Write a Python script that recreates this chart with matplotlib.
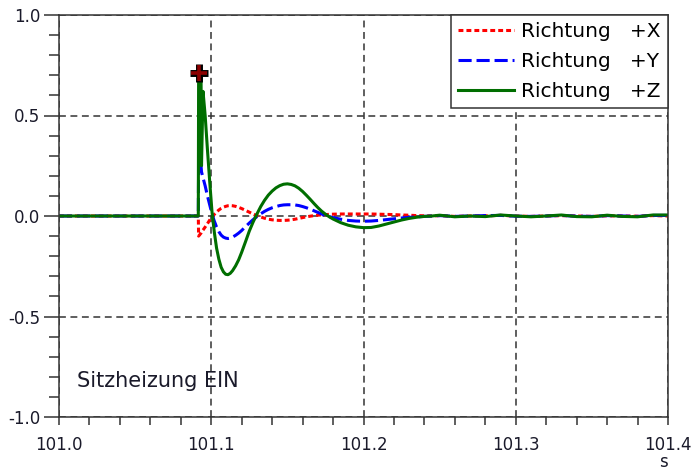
import matplotlib
matplotlib.use("Agg")
import matplotlib.pyplot as plt
from matplotlib.ticker import MultipleLocator, FormatStrFormatter
import numpy as np

# time axis [s] shared by all three directions
t = [101.0, 101.0915, 101.0917, 101.0933, 101.0936, 101.0946, 101.096, 101.0975, 101.099, 101.1005,
     101.102, 101.1035, 101.105, 101.1065, 101.108, 101.1095, 101.111, 101.1125, 101.114, 101.116,
     101.118, 101.12, 101.1225, 101.125, 101.1275, 101.13, 101.1325, 101.135, 101.1375, 101.14,
     101.1425, 101.145, 101.1475, 101.15, 101.1525, 101.155, 101.1575, 101.16, 101.1625, 101.165,
     101.1675, 101.17, 101.1725, 101.175, 101.1775, 101.18, 101.185, 101.19, 101.195, 101.2,
     101.205, 101.21, 101.215, 101.22, 101.225, 101.23, 101.235, 101.24, 101.245,
     101.25, 101.26, 101.27, 101.28, 101.29, 101.30, 101.31, 101.32,
     101.33, 101.34, 101.35, 101.36, 101.37, 101.38, 101.39, 101.4]

acc_x = [0.0, 0.0, -0.10, -0.085, -0.08, -0.07, -0.055, -0.038, -0.02, -0.005,
         0.008, 0.02, 0.03, 0.038, 0.044, 0.048, 0.051, 0.052, 0.051, 0.048,
         0.043, 0.037, 0.028, 0.019, 0.01, 0.002, -0.005, -0.011, -0.016, -0.019,
         -0.021, -0.022, -0.022, -0.021, -0.019, -0.016, -0.012, -0.008, -0.004, -0.001,
         0.002, 0.004, 0.006, 0.007, 0.008, 0.009, 0.01, 0.01, 0.01, 0.01,
         0.01, 0.009, 0.008, 0.007, 0.005, 0.004, 0.002, 0.001, 0.0,
         0.002, -0.002, 0.0, 0.001, 0.003, 0.0, -0.002, 0.0,
         0.002, 0.0, -0.002, 0.001, 0.0, -0.001, 0.002, 0.0]

acc_y = [0.0, 0.0, 0.28, 0.25, 0.22, 0.19, 0.15, 0.10, 0.055, 0.01,
         -0.025, -0.055, -0.078, -0.095, -0.105, -0.11, -0.112, -0.11, -0.105, -0.096,
         -0.085, -0.072, -0.053, -0.035, -0.018, -0.003, 0.011, 0.023, 0.033, 0.041,
         0.047, 0.052, 0.055, 0.056, 0.056, 0.055, 0.052, 0.047, 0.041, 0.034,
         0.026, 0.018, 0.01, 0.003, -0.003, -0.008, -0.016, -0.022, -0.025, -0.026,
         -0.025, -0.022, -0.018, -0.014, -0.01, -0.007, -0.004, -0.002, 0.0,
         0.002, -0.002, 0.0, 0.002, 0.003, -0.001, -0.002, 0.0,
         0.003, -0.001, -0.002, 0.002, 0.0, -0.002, 0.003, 0.003]

acc_z = [0.0, 0.0, 0.71, 0.70, 0.25, 0.62, 0.50, 0.33, 0.17, 0.02,
         -0.08, -0.16, -0.215, -0.255, -0.278, -0.29, -0.292, -0.285, -0.272, -0.248,
         -0.218, -0.18, -0.128, -0.075, -0.03, 0.01, 0.047, 0.078, 0.104, 0.124,
         0.14, 0.151, 0.158, 0.16, 0.157, 0.15, 0.138, 0.122, 0.103, 0.083,
         0.062, 0.042, 0.024, 0.009, -0.004, -0.015, -0.033, -0.046, -0.054, -0.058,
         -0.057, -0.05, -0.04, -0.03, -0.02, -0.012, -0.006, -0.002, 0.0,
         0.004, -0.004, 0.0, -0.003, 0.005, 0.0, -0.004, 0.0,
         0.005, -0.003, -0.004, 0.004, -0.002, -0.004, 0.005, 0.005]

labels = ["Richtung   +X", "Richtung   +Y", "Richtung   +Z"]
annotation = "Sitzheizung EIN"

plt.rcParams["font.family"] = ["DejaVu Sans"]

fig = plt.figure(figsize=(6.93, 4.74), dpi=100)
ax = fig.add_axes([59 / 693, 1 - 417 / 474, 609 / 693, 402 / 474])

lw = 2.2
ax.plot(t, acc_x, color="#ff0000", lw=lw, linestyle=(0, (1.6, 1.0)), label=labels[0])
ax.plot(t, acc_y, color="#0000ff", lw=lw, linestyle=(0, (4.3, 1.6)), label=labels[1])
ax.plot(t, acc_z, color="#006e00", lw=lw, label=labels[2])

# peak marker on the Z signal
i_pk = int(np.argmax(acc_z))
ax.plot(t[i_pk], acc_z[i_pk], marker="+", ms=13, mew=5, color="black", zorder=5)
ax.plot(t[i_pk], acc_z[i_pk], marker="+", ms=11, mew=2.6, color="#8b0000", zorder=6)

ax.set_xlim(101.0, 101.4)
ax.set_ylim(-1.0, 1.0)
ax.xaxis.set_major_locator(MultipleLocator(0.1))
ax.xaxis.set_minor_locator(MultipleLocator(0.02))
ax.yaxis.set_major_locator(MultipleLocator(0.5))
ax.yaxis.set_minor_locator(MultipleLocator(0.1))
ax.xaxis.set_major_formatter(FormatStrFormatter("%.1f"))
ax.yaxis.set_major_formatter(FormatStrFormatter("%.1f"))
ax.tick_params(axis="both", which="both", direction="out", colors="#333333",
               labelcolor="#1a1a2a", labelsize=12, width=1.1)
ax.tick_params(axis="y", which="major", length=10.5, pad=3)
ax.tick_params(axis="y", which="minor", length=7)
ax.tick_params(axis="x", which="major", length=6, pad=8)
ax.tick_params(axis="x", which="minor", length=6)

ax.grid(True, which="major", color="#333333", linestyle=(0, (4.5, 3)), lw=1.1)
for sp in ax.spines.values():
    sp.set_color("#333333")
    sp.set_linewidth(1.1)

ax.text(101.0118, -0.82, annotation, fontsize=15, color="#1a1a2a", va="center", ha="left")

leg = ax.legend(loc="upper right", fontsize=14.5, frameon=True, fancybox=False,
                framealpha=1, edgecolor="#333333", borderaxespad=0,
                handlelength=2.8, handletextpad=0.35, labelspacing=0.55,
                borderpad=0.35)
leg.get_frame().set_linewidth(1.1)

fig.text(663 / 693, 1 - 462 / 474, "s", fontsize=12, color="#1a1a2a", ha="center", va="center")

fig.savefig("out.png", dpi=100)
plt.close(fig)
